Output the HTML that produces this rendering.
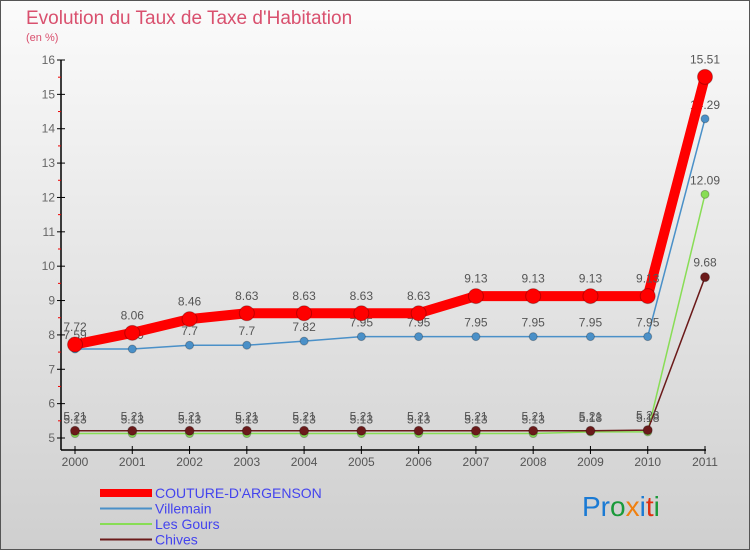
<!DOCTYPE html>
<html><head><meta charset="utf-8"><style>
body{margin:0;}
svg text{font-family:"Liberation Sans",sans-serif;}
</style></head><body>
<svg width="750" height="550" xmlns="http://www.w3.org/2000/svg">
<defs><linearGradient id="bg" x1="0" y1="0" x2="0" y2="1"><stop offset="0" stop-color="#fbfbfb"/><stop offset="1" stop-color="#cfcfcf"/></linearGradient></defs>
<rect x="0.5" y="0.5" width="749" height="549" fill="url(#bg)" stroke="#555"/>
<text x="26" y="24" font-size="19" fill="#d9506e">Evolution du Taux de Taxe d'Habitation</text>
<text x="26" y="41" font-size="11" fill="#d9506e">(en %)</text>
<g id="axes"></g>
<g id="series"></g>
<g id="legend"></g>
<text x="582" y="516" font-size="28"><tspan fill="#1a7ad4">Pr</tspan><tspan fill="#1a9a3a">o</tspan><tspan fill="#f08010">x</tspan><tspan fill="#1a7ad4">i</tspan><tspan fill="#e03010">t</tspan><tspan fill="#1a9a3a">i</tspan></text>
</svg>
<script>
const years=[2000,2001,2002,2003,2004,2005,2006,2007,2008,2009,2010,2011];
const yTicks=[5,6,7,8,9,10,11,12,13,14,15,16];
const couture=[7.72,8.06,8.46,8.63,8.63,8.63,8.63,9.13,9.13,9.13,9.13,15.51];
const villemain=[7.59,7.59,7.7,7.7,7.82,7.95,7.95,7.95,7.95,7.95,7.95,14.29];
const lesGours=[5.13,5.13,5.13,5.13,5.13,5.13,5.13,5.13,5.13,5.18,5.18,12.09];
const chives=[5.21,5.21,5.21,5.21,5.21,5.21,5.21,5.21,5.21,5.21,5.23,9.68];
const NS="http://www.w3.org/2000/svg";
const xs=i=>75+i*(705-75)/(years.length-1);
const ys=v=>438-(v-5)*(438-60)/11;
function mk(tag,attrs,parent){const e=document.createElementNS(NS,tag);for(const k in attrs)e.setAttribute(k,attrs[k]);parent.appendChild(e);return e;}
const ax=document.getElementById('axes');
let l=mk('line',{x1:61,y1:60,x2:61,y2:450,stroke:'#000','stroke-width':1.5},ax);


l=mk('line',{x1:61,y1:450,x2:706,y2:450,stroke:'#000','stroke-width':1.5},ax);


yTicks.forEach(v=>{
 mk('line',{x1:57,y1:ys(v),x2:65,y2:ys(v),stroke:'#000'},ax);
 if(v<16) mk('line',{x1:58,y1:ys(v+0.5),x2:61,y2:ys(v+0.5),stroke:'#e00'},ax);
 const t=mk('text',{x:55,y:ys(v)+4,'font-size':12,'text-anchor':'end',fill:'#666'},ax);t.textContent=v;
 
 
});
years.forEach((y,i)=>{
 mk('line',{x1:xs(i),y1:446,x2:xs(i),y2:454,stroke:'#000'},ax);
 const t=mk('text',{x:xs(i),y:466,'font-size':12,'text-anchor':'middle',fill:'#555'},ax);t.textContent=y;
 
 
});
const sg=document.getElementById('series');
function series(vals,color,w,r,name){
 const g=mk('g',{},sg);
 
 
 mk('polyline',{points:vals.map((v,i)=>xs(i)+','+ys(v)).join(' '),fill:'none',stroke:color,'stroke-width':w,'stroke-linejoin':'round'},g);
 vals.forEach((v,i)=>{
  const c=mk('circle',{cx:xs(i),cy:ys(v),r:r,fill:color,stroke:'rgba(0,0,0,0.25)'},g);
  
  
  const t=mk('text',{x:xs(i),y:ys(v)-(r+6),'font-size':12,'text-anchor':'middle',fill:'#555'},g);t.textContent=v;
 });
}
series(lesGours,'#88dd55',1.5,4,'les-gours-series');
series(chives,'#6b1a1a',1.5,4.5,'chives-series');
series(villemain,'#4a90c8',1.5,4,'villemain-series');
series(couture,'#ff0000',10,7.5,'couture-series');
const lg=document.getElementById('legend');
const items=[['COUTURE-D\'ARGENSON','#ff0000',8],['Villemain','#4a90c8',2],['Les Gours','#88dd55',2],['Chives','#6b1a1a',2]];
items.forEach((it,i)=>{
 const y=493+i*15.5;
 const g=mk('g',{},lg);
 
 
 mk('line',{x1:100,y1:y,x2:152,y2:y,stroke:it[1],'stroke-width':it[2]},g);
 const t=mk('text',{x:155,y:y+5,'font-size':14,fill:'#4444ee'},g);t.textContent=it[0];
});
</script>
</body></html>
